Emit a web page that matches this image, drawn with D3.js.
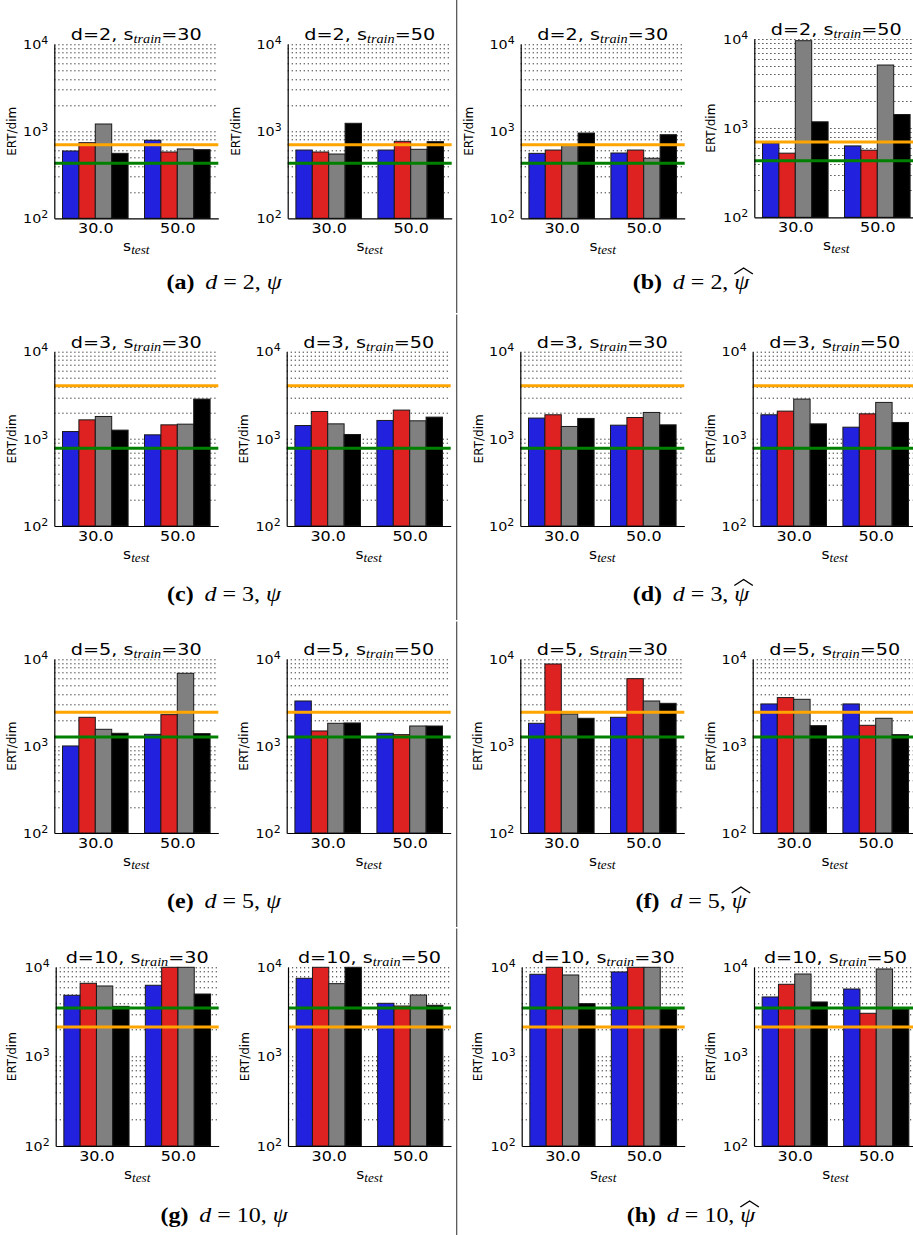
<!DOCTYPE html>
<html><head><meta charset="utf-8">
<script src="https://cdn.jsdelivr.net/npm/d3@7"></script>
<style>html,body{margin:0;padding:0;background:#fff;overflow:hidden}svg{display:block}</style>
</head><body>
<svg id="chart" width="913" height="1235"></svg>
<script>
// ---------------- data ----------------
const dims = [2, 3, 5, 10];
const trainSizes = [30, 50];
const testLabels = ["30.0", "50.0"];
const yTickValues = [100, 1000, 10000];
const captionLetters = ["a", "b", "c", "d", "e", "f", "g", "h"];
const orangeRef = [700, 4060, 2450, 2150];
const greenRef = [430, 782, 1276, 3500];

// each: [s_test=30 group, s_test=50 group]; bars: blue, red, gray, black
const psi_d2_s30 = [[594, 740, 1213, 558], [789, 578, 627, 615]];
const psi_d2_s50 = [[609, 578, 548, 1236], [609, 767, 621, 760]];
const psihat_d2_s30 = [[558, 609, 705, 955], [563, 609, 490, 914]];
const psihat_d2_s50 = [[678, 524, 9570, 1178], [632, 566, 5105, 1422]];
const psi_d3_s30 = [[1213, 1652, 1806, 1259], [1112, 1448, 1474, 2858]];
const psi_d3_s50 = [[1422, 2061, 1486, 1122], [1626, 2138, 1611, 1775]];
const psihat_d3_s30 = [[1731, 1889, 1387, 1715], [1435, 1758, 2009, 1448]];
const psihat_d3_s50 = [[1889, 2080, 2858, 1486], [1361, 1936, 2618, 1542]];
const psi_d5_s30 = [[1005, 2148, 1563, 1406], [1368, 2306, 6900, 1393]];
const psi_d5_s50 = [[3311, 1496, 1833, 1849], [1406, 1357, 1706, 1706]];
const psihat_d5_s30 = [[1833, 8830, 2345, 2093], [2148, 5985, 3311, 3112]];
const psihat_d5_s50 = [[3062, 3624, 3462, 1722], [3062, 1738, 2093, 1357]];
const psi_d10_s30 = [[4864, 6622, 6180, 3656], [6295, 10000, 10000, 5025]];
const psi_d10_s50 = [[7534, 10000, 6560, 10000], [3954, 3688, 4898, 3758]];
const psihat_d10_s30 = [[8353, 10000, 8204, 3918], [8870, 10000, 10000, 3450]];
const psihat_d10_s50 = [[4656, 6456, 8414, 4093], [5715, 3057, 9575, 3420]];

const panelValues = [
  [psi_d2_s30, psi_d2_s50, psihat_d2_s30, psihat_d2_s50],
  [psi_d3_s30, psi_d3_s50, psihat_d3_s30, psihat_d3_s50],
  [psi_d5_s30, psi_d5_s50, psihat_d5_s30, psihat_d5_s50],
  [psi_d10_s30, psi_d10_s50, psihat_d10_s30, psihat_d10_s50]
];

// ---------------- layout / style ----------------
const W = 913, H = 1235;
const barColors = ["#2121de", "#de2121", "#808080", "#000000"];
const rowTop = [44.3, 351.7, 659.3, 967.3];
const rowBottom = [218.3, 526, 833, 1146];
const colLeft = [
  [54.3, 287.7, 520.7, 754.3],
  [54.3, 286.7, 520.3, 752.7],
  [54.3, 286.7, 520.3, 752.7],
  [55.7, 288, 521.7, 754]
];
const plotW = [164, 164, 164, 163];
const frameOverride = { "0-3": [39, 217.3] };
const ylabelOffset = [
  [-43, -52, -52, -44],
  [-43, -43, -42, -42],
  [-42.5, -42.5, -42.3, -42.4],
  [-44, -43.7, -43.7, -43.7]
];
const captionY = [289, 600.5, 908, 1222];
const captionX = [224, 691];
const SX = 1.1;   // horizontal text stretch inside panels
const TSX = 1.24; // titles
const CSX = 1.2;  // captions
const SANS = "DejaVu Sans";
const SERIF = "Liberation Serif";

const svg = d3.select("#chart");
svg.append("rect").attr("width", W).attr("height", H).attr("fill", "#fff");

// separators
[[0, 313], [314.5, 620], [621.5, 927], [928.5, 1235]].forEach(s => {
  svg.append("line").attr("x1", 456.7).attr("x2", 456.7).attr("y1", s[0]).attr("y2", s[1])
    .attr("stroke", "#4d4d4d").attr("stroke-width", 1.2);
});

panelValues.forEach((row, r) => row.forEach((vals, c) => {
  const ov = frameOverride[r + "-" + c];
  const top = ov ? ov[0] : rowTop[r];
  const bottom = ov ? ov[1] : rowBottom[r];
  const left = colLeft[r][c], w = plotW[r], h = bottom - top;
  const g = svg.append("g").attr("transform", `translate(${left},${top})`);
  const x = d3.scaleLinear().domain([-0.1, 1.9]).range([0, w]);
  const y = d3.scaleLog().domain([100, 10000]).range([h, 0]);

  // dotted grid
  g.append("g").selectAll("line").data(y.ticks().filter(v => v > 100)).join("line")
    .attr("x1", 0).attr("x2", w)
    .attr("y1", d => Math.round(y(d)) + 0.5).attr("y2", d => Math.round(y(d)) + 0.5)
    .attr("stroke", "#222").attr("stroke-width", 1).attr("stroke-dasharray", "1.2,2.8");

  // bars
  const barData = vals.flatMap((grp, gi) => grp.map((v, mi) => ({ gi, mi, v: Math.min(v, 10000) })));
  g.append("g").selectAll("rect").data(barData).join("rect")
    .attr("x", d => x(d.gi + d.mi * 0.2))
    .attr("width", x(0.2) - x(0))
    .attr("y", d => y(d.v))
    .attr("height", d => h - y(d.v))
    .attr("fill", d => barColors[d.mi])
    .attr("stroke", "#1a1a1a").attr("stroke-width", 1);

  // reference lines
  g.append("line").attr("x1", 0).attr("x2", w)
    .attr("y1", y(orangeRef[r])).attr("y2", y(orangeRef[r]))
    .attr("stroke", "#ffa500").attr("stroke-width", 3);
  g.append("line").attr("x1", 0).attr("x2", w)
    .attr("y1", y(greenRef[r])).attr("y2", y(greenRef[r]))
    .attr("stroke", "#008000").attr("stroke-width", 3);

  // y axis
  const yg = g.append("g").call(
    d3.axisLeft(y).tickValues(yTickValues).tickSize(0).tickSizeOuter(0).tickPadding(6).tickFormat(() => ""));
  yg.select(".domain").attr("stroke", "#000").attr("stroke-width", 1.2);
  yg.selectAll(".tick text").each(function (d) {
    const t = d3.select(this);
    t.attr("transform", `scale(${SX},1)`).attr("x", -6 / SX)
      .attr("font-family", SANS).attr("font-size", 13).attr("fill", "#000");
    t.append("tspan").text("10");
    t.append("tspan").attr("dy", -5).attr("font-size", 10).text(Math.round(Math.log10(d)));
  });

  // x axis
  const xg = g.append("g").attr("transform", `translate(0,${h})`).call(
    d3.axisBottom(x).tickValues([0.4, 1.4]).tickFormat((d, i) => testLabels[i])
      .tickSize(0).tickSizeOuter(0).tickPadding(4.5));
  xg.select(".domain").attr("stroke", "#000").attr("stroke-width", 1.2);
  xg.selectAll(".tick text").attr("transform", `scale(${SX},1)`)
    .attr("font-family", SANS).attr("font-size", 14.5).attr("fill", "#000");

  // title
  const tt = g.append("g").attr("transform", `translate(${w / 2},-4) scale(${TSX},1)`)
    .append("text").attr("text-anchor", "middle").attr("font-family", SANS).attr("font-size", 15.5).attr("fill", "#000");
  tt.append("tspan").text(`d=${dims[r]}, s`);
  tt.append("tspan").attr("dy", 3).attr("font-family", SERIF).attr("font-style", "italic").attr("font-size", 11.5).text("train");
  tt.append("tspan").attr("dy", -3).text(`=${trainSizes[c % 2]}`);

  // x label
  const xl = g.append("g").attr("transform", `translate(${w / 2},${h + 32.5}) scale(${SX},1)`)
    .append("text").attr("text-anchor", "middle").attr("font-family", SANS).attr("font-size", 14).attr("fill", "#000");
  xl.append("tspan").text("s");
  xl.append("tspan").attr("dy", 3).attr("font-family", SERIF).attr("font-style", "italic").attr("font-size", 12).text("test");

  // y label
  g.append("text").attr("transform", `translate(${ylabelOffset[r][c]},${h / 2}) rotate(-90)`)
    .attr("text-anchor", "middle").attr("dy", "0.35em")
    .attr("font-family", SANS).attr("font-size", 12).attr("fill", "#000").text("ERT/dim");
}));

// captions
dims.forEach((dim, r) => {
  [0, 1].forEach(side => {
    const cg = svg.append("g").attr("transform", `translate(${captionX[side]},${captionY[r]}) scale(${CSX},1)`);
    const t = cg.append("text").attr("text-anchor", "middle").attr("font-family", SERIF).attr("font-size", 20).attr("fill", "#000");
    t.append("tspan").attr("font-weight", "bold").text(`(${captionLetters[r * 2 + side]})`);
    t.append("tspan").attr("dx", 9).attr("font-style", "italic").text("d");
    t.append("tspan").text(` = ${dim}, `);
    t.append("tspan").attr("font-style", "italic").text("\u03c8");
    if (side === 1) {
      const node = t.node();
      const n = node.getNumberOfChars() - 1;
      const s = node.getStartPositionOfChar(n).x;
      const e = node.getEndPositionOfChar(n).x;
      const mid = (s + e) / 2 + 1.5;
      const half = (e - s) / 2 + 1.5;
      cg.append("path")
        .attr("d", `M${mid - half},-15 L${mid},-21 L${mid + half},-15`)
        .attr("fill", "none").attr("stroke", "#000").attr("stroke-width", 1.1);
    }
  });
});
</script>
</body></html>
